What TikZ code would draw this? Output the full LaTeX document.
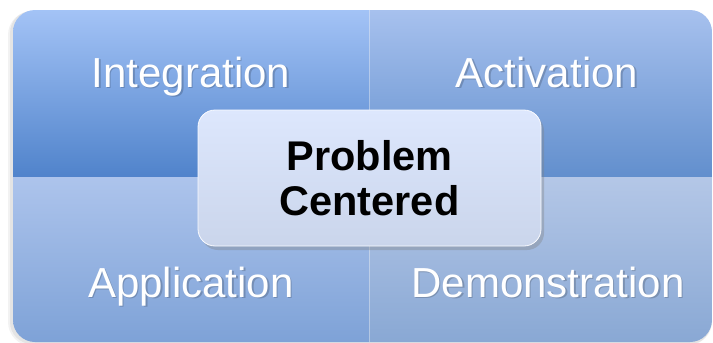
\documentclass[tikz,border=0pt]{standalone}
\usepackage{fontspec}
\setmainfont{Liberation Sans}
\usetikzlibrary{shadows}
\definecolor{tlTop}{HTML}{A3C3F6}
\definecolor{tlBot}{HTML}{5083CB}
\definecolor{trTop}{HTML}{A7C1EE}
\definecolor{trBot}{HTML}{628FCD}
\definecolor{blTop}{HTML}{ADC4EC}
\definecolor{blBot}{HTML}{7EA2D7}
\definecolor{brTop}{HTML}{B4C7E7}
\definecolor{brBot}{HTML}{89A8D4}
\definecolor{cTop}{HTML}{DDE7FD}
\definecolor{cBot}{HTML}{CAD5EB}
\tikzset{
  quadlabel/.style={text=white, font=\fontsize{42}{50}\selectfont, anchor=base, inner sep=0pt},
  quadshadow/.style={text=black, opacity=0.18, font=\fontsize{42}{50}\selectfont, anchor=base, inner sep=0pt},
  centerbox/.style={rectangle, rounded corners=17pt, minimum width=343pt, minimum height=136pt,
    top color=cTop, bottom color=cBot, draw=white!85!cTop, line width=0.8pt,
    drop shadow={opacity=0.35, shadow xshift=3pt, shadow yshift=-4pt},
    align=center, font=\bfseries\fontsize{41.5}{45}\selectfont, text=black, inner sep=0pt}
}
\begin{document}
\begin{tikzpicture}[x=1pt,y=-1pt]
\useasboundingbox (0,0) rectangle (713,343);
% outer soft shadow (mostly left and bottom)
\fill[black, opacity=0.05, rounded corners=24] (8,11) rectangle (711,346);
\fill[black, opacity=0.06, rounded corners=22] (10,11) rectangle (712,344);
\begin{scope}
  \clip[rounded corners=22] (13,10) rectangle (712,342);
  \shade[top color=tlTop, bottom color=tlBot] (13,10) rectangle (369,177);
  \shade[top color=trTop, bottom color=trBot] (369,10) rectangle (712,177);
  \shade[top color=blTop, bottom color=blBot] (13,177) rectangle (369,342);
  \shade[top color=brTop, bottom color=brBot] (369,177) rectangle (712,342);
  \draw[white, opacity=0.35, line width=0.8pt] (369,10) -- (369,342);
\end{scope}
% labels with faint shadow
\node[quadshadow] (intS) at (192.5,88.5) {Integration};
\node[quadlabel] (int) at (191,87) {Integration};
\node[quadshadow] (actS) at (548.5,88.5) {Activation};
\node[quadlabel] (act) at (547,87) {Activation};
\node[quadshadow] (appS) at (192.5,298.5) {Application};
\node[quadlabel] (app) at (191,297) {Application};
\node[quadshadow] (demS) at (549.5,298.5) {Demonstration};
\node[quadlabel] (dem) at (548,297) {Demonstration};
% center
\node[centerbox] (center) at (369.5,178) {Problem\\Centered};
\end{tikzpicture}
\end{document}
